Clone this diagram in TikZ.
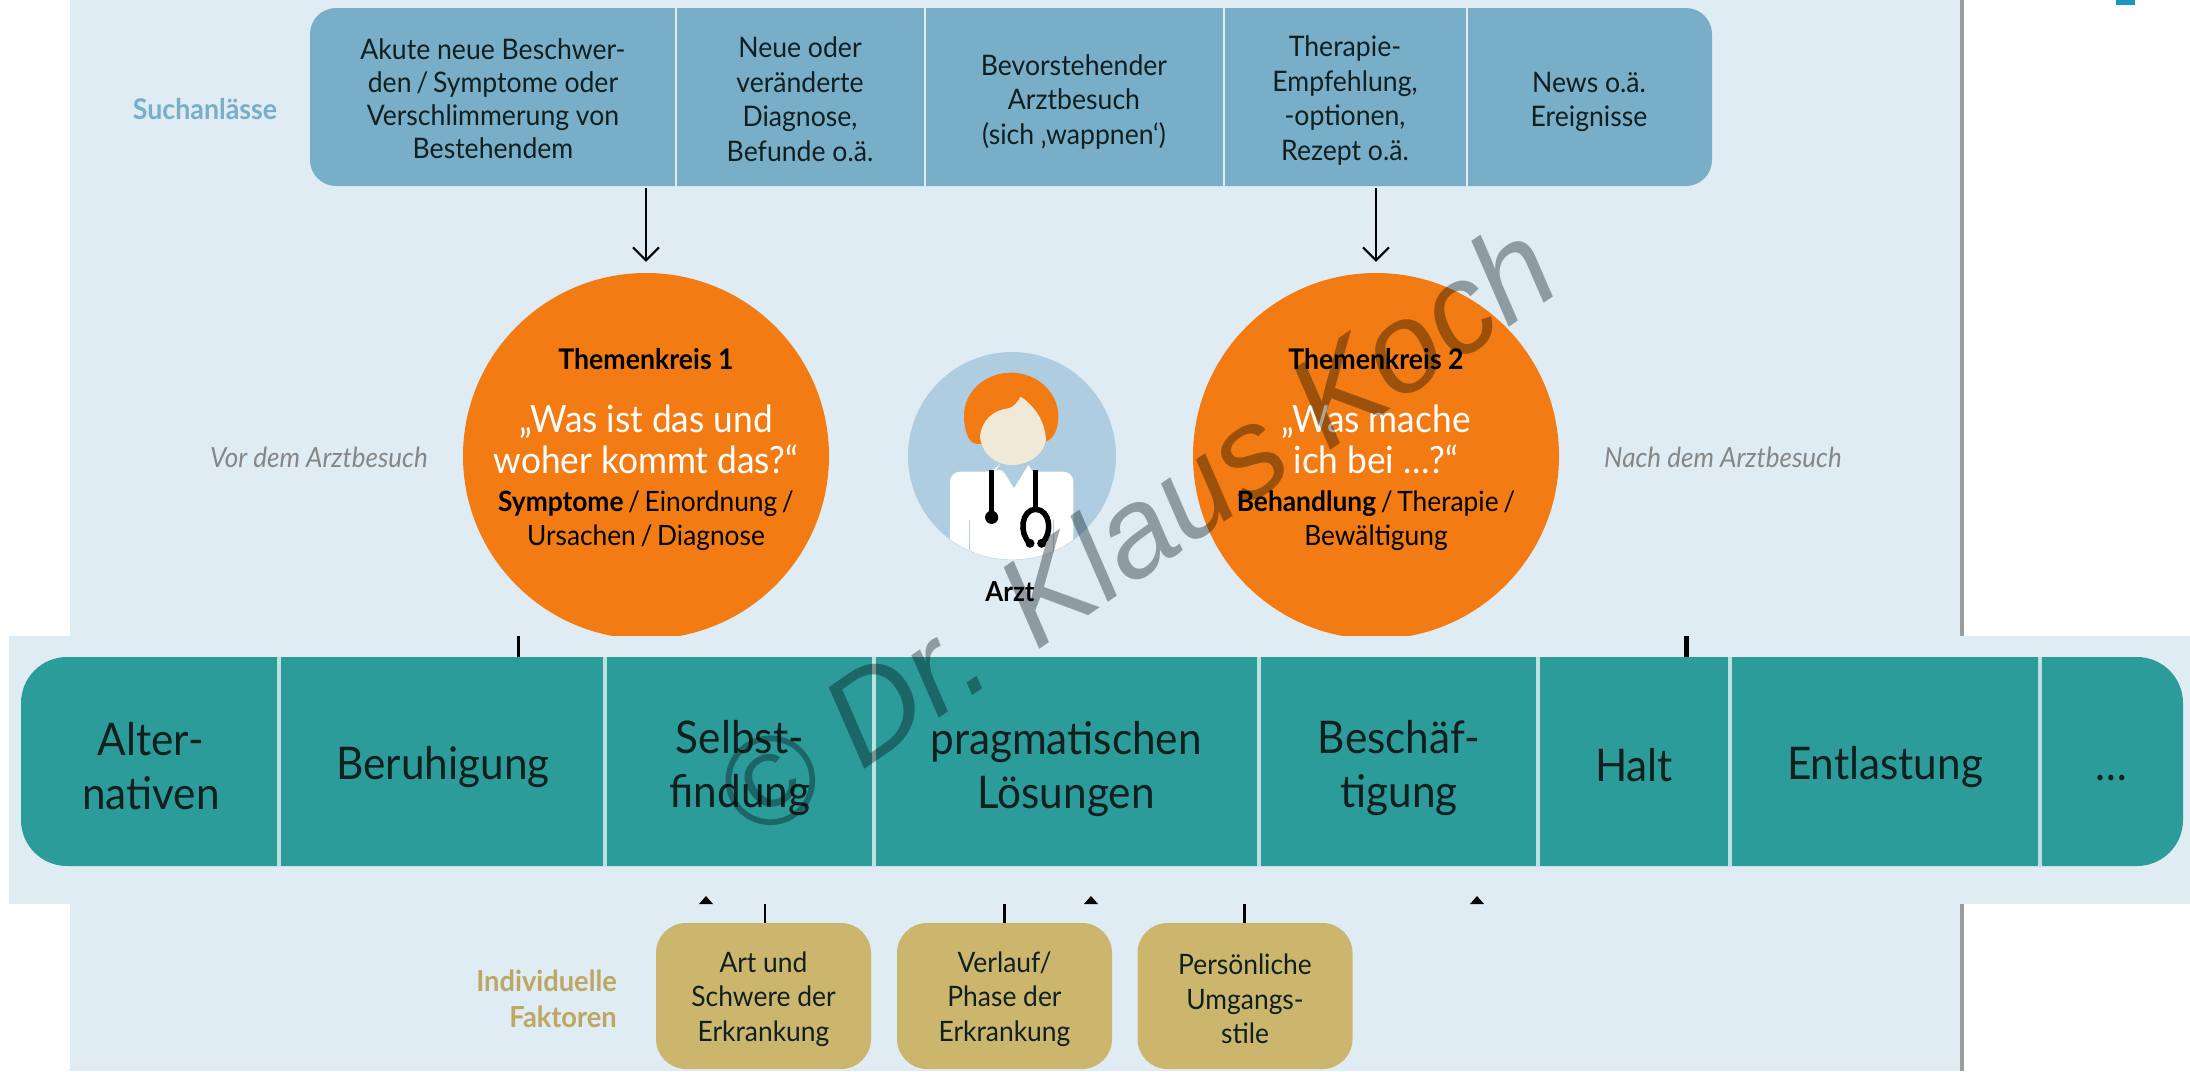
\documentclass[tikz,border=0pt]{standalone}
\usepackage{fontspec}
\setmainfont[FakeStretch=0.94]{Lato}
\newfontfamily\wmfont{Liberation Sans}
\definecolor{panel}{HTML}{DFECF4}
\definecolor{topblue}{HTML}{79AEC9}
\definecolor{tealbar}{HTML}{2C9C9A}
\definecolor{goldbox}{HTML}{CCB66D}
\definecolor{orangec}{HTML}{F27C13}
\definecolor{docblue}{HTML}{AECDE0}
\definecolor{faceb}{HTML}{F0E9D8}
\definecolor{inktext}{HTML}{10201F}
\definecolor{tealdiv}{HTML}{BFE0DE}
\definecolor{shadowg}{HTML}{9A9C9E}
\definecolor{wmgrey}{HTML}{A4A8AB}
\definecolor{cornerc}{HTML}{1A96C0}
\usetikzlibrary{arrows.meta}
\tikzset{
  x=1pt,y=-1pt,
  cellt/.style={text=inktext,align=center,inner sep=0pt,font=\fontsize{28.3}{33}\selectfont},
  cellw/.style={text=inktext,align=center,inner sep=0pt,font=\fontsize{28.3}{34.5}\selectfont},
  goldt/.style={text=inktext,align=center,inner sep=0pt,font=\fontsize{28.1}{34.5}\selectfont},
  barLt/.style={text=inktext,align=center,inner sep=0pt,font=\fontsize{45}{54.5}\selectfont},
  circhead/.style={text=black,inner sep=0pt,font=\bfseries\fontsize{28.4}{30}\selectfont},
  circq/.style={text=white,align=center,inner sep=0pt,font=\fontsize{37.5}{41}\selectfont},
  circsub/.style={text=black,align=center,inner sep=0pt,font=\fontsize{28}{34}\selectfont},
  sidelab/.style={text=gray!95,inner sep=0pt,font=\itshape\fontsize{27.7}{30}\selectfont},
  topbox/.style={fill=topblue,rounded corners=26pt,inner sep=0pt,minimum width=1402pt,minimum height=178pt},
  barbox/.style={fill=tealbar,rounded corners=46pt,inner sep=0pt,minimum width=2162pt,minimum height=209pt},
  goldbx/.style={fill=goldbox,rounded corners=30pt,inner sep=0pt,minimum width=215pt,minimum height=146pt},
  bigcirc/.style={circle,fill=orangec,inner sep=0pt,minimum size=366pt},
  divtop/.style={draw=panel,line width=2pt},
  divbar/.style={draw=tealdiv,line width=4pt},
  conn/.style={draw=black,line width=2.5pt},
  connarrow/.style={draw=black,line width=2pt,-{Straight Barb[length=13pt,width=26pt,line width=2pt]}},
  tickthin/.style={draw=black,line width=3pt},
  tickthick/.style={draw=black,line width=4.5pt},
}
\begin{document}
\begin{tikzpicture}
\useasboundingbox (0,0) rectangle (2190,1071);
\fill[white] (0,0) rectangle (2190,1071);
% panel and shadow
\fill[panel] (70,0) rectangle (1960,1071);
\fill[shadowg] (1960,0) rectangle (1964,1071);
% corner remnant
\fill[cornerc] (2116,0) rectangle (2135,5);

% top bar
\node[topbox] (blue) at (1011,97) {};
\foreach \xx in {676,924.5,1224,1467} \draw[divtop] (\xx,8) -- (\xx,186);
\node[cellt] (s1) at (493,99) {Akute neue Beschwer-\\den\,/\,Symptome oder\\Verschlimmerung von\\Bestehendem};
\node[cellw] (s2) at (800,99) {Neue oder\\veränderte\\Diagnose,\\Befunde o.ä.};
\node[cellw] (s3) at (1074,102) {Bevorstehender\\Arztbesuch\\(sich ‚wappnen‘)};
\node[cellw] (s4) at (1345,100.5) {Therapie-\\Empfehlung,\\-optionen,\\Rezept o.ä.};
\node[cellw] (s5) at (1589,102) {News o.ä.\\Ereignisse};
\node[inner sep=0pt,text=topblue,font=\bfseries\fontsize{28.5}{30}\selectfont] (such) at (205,109) {Suchanlässe};

% circles
\node[bigcirc] (k1) at (646,456) {};
\node[bigcirc] (k2) at (1376,456) {};
\draw[connarrow,shorten >=11pt,shorten <=2pt] (k1.north |- blue.south) -- (k1.north);
\draw[connarrow,shorten >=11pt,shorten <=2pt] (k2.north |- blue.south) -- (k2.north);
\node[circhead] (k1h) at (646,359) {Themenkreis 1};
\node[circq] (k1q) at (646,439) {„Was ist das und\\woher kommt das?“};
\node[circsub] (k1s) at (646,521) {\textbf{Symptome}\,/\,Einordnung\,/\\Ursachen\,/\,Diagnose};
\node[circhead] (k2h) at (1376,359) {Themenkreis 2};
\node[circq] (k2q) at (1376,439) {„Was mache\\ich bei …?“};
\node[circsub] (k2s) at (1376,521) {\textbf{Behandlung}\,/\,Therapie\,/\\Bewältigung};
\node[sidelab] (vor) at (319,457) {Vor dem Arztbesuch};
\node[sidelab] (nach) at (1723,457) {Nach dem Arztbesuch};

% doctor
\node[circle,fill=docblue,inner sep=0pt,minimum size=208pt] (doc) at (1012,456) {};
\begin{scope}[shift={(880,330)},x=0.33333pt,y=-0.33333pt]
  \begin{scope}
    \clip (396,378) circle[radius=103.6pt];
    \fill[white,rounded corners=10pt] (210,700) -- (210,425) -- (345,425) -- (358,405)
      [sharp corners] -- (402,475) -- (445,405) -- (458,425)
      [rounded corners=10pt] -- (580,425) -- (580,700) -- cycle;
    \draw[docblue,line width=1.6pt] (268,570) -- (268,665);
    \draw[docblue,line width=1.6pt] (520,570) -- (520,665);
  \end{scope}
  \fill[orangec] (290,342) .. controls (265,340) and (252,300) .. (252,258)
     .. controls (252,180) and (320,128) .. (393,128)
     .. controls (470,128) and (535,185) .. (535,260)
     .. controls (535,290) and (525,325) .. (497,335) -- cycle;
  \fill[faceb] (300,320) .. controls (305,270) and (340,240) .. (385,235)
     .. controls (400,232) and (410,220) .. (422,200)
     .. controls (460,225) and (495,270) .. (498,330)
     .. controls (490,375) and (445,405) .. (395,405)
     .. controls (345,405) and (305,370) .. (300,320) -- cycle;
  \draw[black,line width=5pt] (335,420) -- (335,560);
  \fill[black] (335,562) circle[radius=6.6pt];
  \draw[black,line width=5pt] (467,420) -- (467,540);
  \draw[black,line width=5.5pt] (450,640) .. controls (415,610) and (425,538) .. (467,538)
     .. controls (510,538) and (520,610) .. (485,640);
  \fill[black] (450,640) circle[radius=4.5pt];
  \fill[black] (485,640) circle[radius=4.5pt];
\end{scope}
\node[inner sep=0pt,text=black,font=\bfseries\fontsize{27.5}{30}\selectfont] (arzt) at (1010,592) {Arzt};

% band over everything
\fill[white] (0,636) rectangle (9,904);
\fill[panel] (9,636) rectangle (2190,904);
\coordinate (tA) at (518,636);
\coordinate (tB) at (1686.5,636);
\node[barbox] (bar) at (1102,761.5) {};
\draw[tickthin] (tA) -- (tA |- bar.north);
\draw[tickthick] (tB) -- (tB |- bar.north);
\foreach \xx in {279,605,874,1259,1538,1730,2040} \draw[divbar] (\xx,657) -- (\xx,866);
\node[barLt] (b1) at (151,766) {Alter-\\nativen};
\node[barLt] (b2) at (443,767) {Beruhigung};
\node[barLt] (b3) at (740,768) {Selbst-\\findung};
\node[barLt] (b4) at (1066,769) {pragmatischen\\Lösungen};
\node[barLt] (b5) at (1399,768) {Beschäf-\\tigung};
\node[barLt] (b6) at (1634,765) {Halt};
\node[barLt] (b7) at (1885,767) {Entlastung};
\node[barLt] (b8) at (2111,778) {…};

% arrow tips below the band
\foreach \xx in {706,1091,1477} \fill[black] (\xx-7,904) -- (\xx,896) -- (\xx+7,904) -- cycle;

% gold boxes
\node[goldbx] (g1) at (763.5,996) {};
\node[goldbx] (g2) at (1004.5,996) {};
\node[goldbx] (g3) at (1245,996) {};
\coordinate (gt1) at (765,904);
\coordinate (gt2) at (1004.5,904);
\coordinate (gt3) at (1244.5,904);
\draw[conn] (gt1) -- (gt1 |- g1.north);
\draw[conn] (gt2) -- (gt2 |- g2.north);
\draw[conn] (gt3) -- (gt3 |- g3.north);
\node[goldt] (g1t) at (763.5,999) {Art und\\Schwere der\\Erkrankung};
\node[goldt] (g2t) at (1004.5,999) {Verlauf/\\Phase der\\Erkrankung};
\node[goldt] (g3t) at (1245,999) {Persönliche\\Umgangs-\\stile};
\node[anchor=east,inner sep=0pt,align=right,text=goldbox!92!black,font=\bfseries\fontsize{29}{36.5}\selectfont] (ind) at (617,999) {Individuelle\\Faktoren};

% watermark
\begin{scope}[blend mode=multiply]
\node[inner sep=0pt,text=wmgrey,rotate=34.5,font=\wmfont\itshape\fontsize{127}{127}\selectfont] (wm) at (1135,529) {© Dr. Klaus Koch};
\end{scope}
\end{tikzpicture}
\end{document}
